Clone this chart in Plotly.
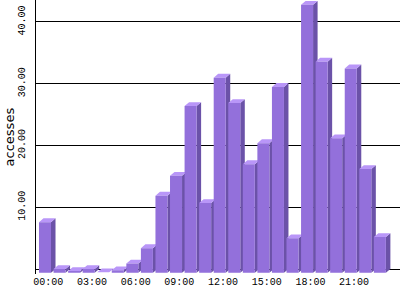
import plotly.graph_objects as go

hours = [f"{h:02d}:00" for h in range(24)]
accesses = [8.2, 0.6, 0.3, 0.6, 0.1, 0.4, 1.5, 4.0, 12.5, 15.7, 27.0, 11.3,
            31.6, 27.5, 17.6, 21.0, 30.1, 5.6, 43.4, 34.2, 21.8, 33.1, 16.8, 5.8]
tick_idx = [0, 3, 6, 9, 12, 15, 18, 21]
tick_labels = [hours[i] for i in tick_idx]
y_ticks = [0, 10, 20, 30, 40]
y_labels = ["", "10.00", "20.00", "30.00", "40.00"]

FRONT = "#9370DB"
SIDE = "#6B52A8"
TOP = "#B996F8"

# pseudo-3D geometry in axis units
XL, XR = -0.64, 0.185   # front face edges relative to category position
DX, DY = 0.31, 0.62     # depth offset

fx, fy, sx, sy, tx, ty = [], [], [], [], [], []
for i, v in enumerate(accesses):
    xl, xr = i + XL, i + XR
    fx += [xl, xr, xr, xl, xl, None]
    fy += [-DY, -DY, v - DY, v - DY, -DY, None]
    sx += [xr, xr + DX, xr + DX, xr, xr, None]
    sy += [-DY, 0, v, v - DY, -DY, None]
    tx += [xl, xl + DX, xr + DX, xr, xl, None]
    ty += [v - DY, v, v, v - DY, v - DY, None]

fig = go.Figure()
for xs, ys, col in [(sx, sy, SIDE), (tx, ty, TOP), (fx, fy, FRONT)]:
    fig.add_trace(go.Scatter(x=xs, y=ys, mode="lines", fill="toself",
                             fillcolor=col, line=dict(width=0, color=col),
                             hoverinfo="skip", showlegend=False))

fig.add_annotation(text="accesses", xref="paper", yref="paper",
                   x=-0.073, y=0.5, xanchor="center", yanchor="middle",
                   textangle=-90, showarrow=False,
                   font=dict(family="DejaVu Sans", size=13, color="black"))

fig.update_layout(
    width=400, height=300,
    margin=dict(l=36, r=0, t=0, b=26),
    paper_bgcolor="white", plot_bgcolor="white",
    showlegend=False,
    xaxis=dict(range=[-0.845, 24.155], tickvals=tick_idx, ticktext=tick_labels,
               showgrid=False, zeroline=False, showline=False, ticks="",
               tickfont=dict(family="Liberation Mono", size=10, color="black"),
               fixedrange=True),
    yaxis=dict(range=[-0.81, 43.56], tickvals=y_ticks, ticktext=y_labels,
               showgrid=True, gridcolor="black", gridwidth=1,
               zeroline=False, showline=True, linecolor="black", linewidth=1,
               ticks="", tickangle=-90, ticklabelstandoff=6,
               tickfont=dict(family="Liberation Mono", size=10, color="black"),
               fixedrange=True),
)

fig.write_html("out.html")
